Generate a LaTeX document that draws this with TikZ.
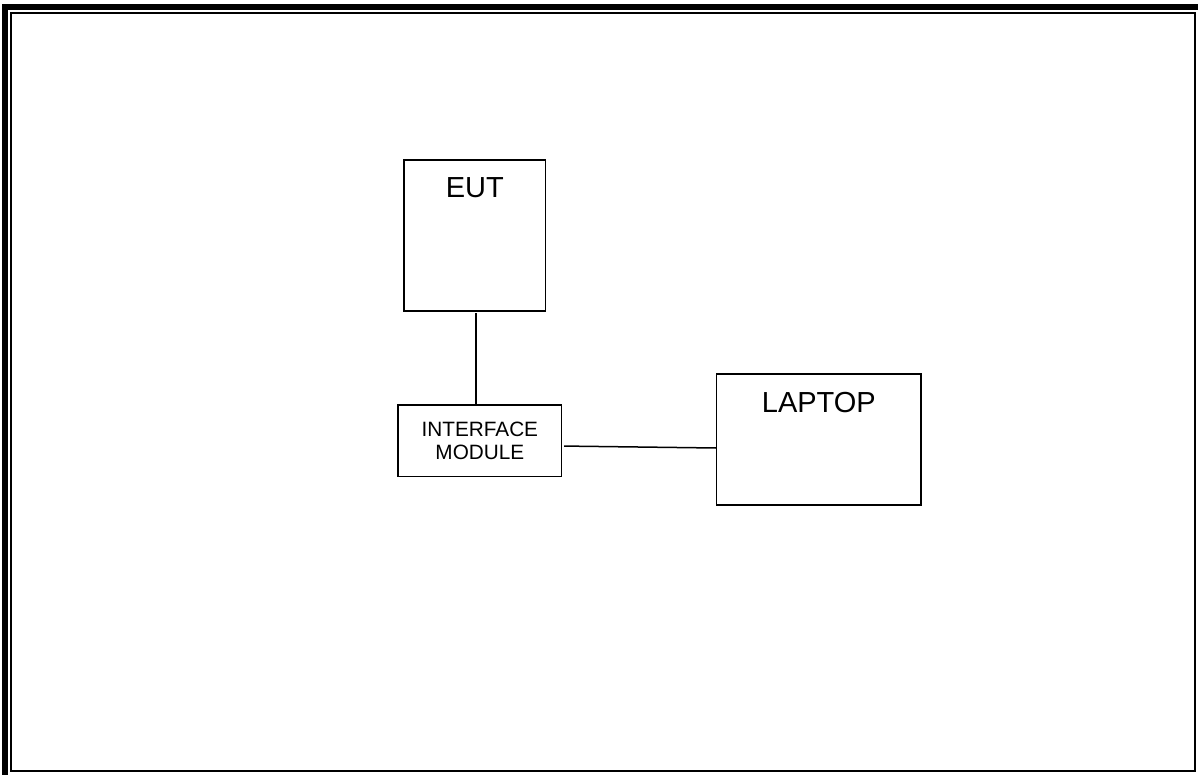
\documentclass[tikz,border=0pt]{standalone}
\usepackage{fontspec}
\setmainfont{Liberation Sans}
\begin{document}
\begin{tikzpicture}[x=1pt,y=-1pt,
  box/.style={draw=black,line width=1.3pt,fill=white,inner sep=0pt,outer sep=0pt},
  bigtxt/.style={font=\fontsize{29}{32}\selectfont,inner sep=0pt,anchor=base},
  smalltxt/.style={font=\fontsize{20.75}{23.3}\selectfont,align=center,inner sep=0pt},
  wire/.style={draw=black,line width=1.5pt}]
\useasboundingbox (0,0) rectangle (1198,774);
\clip (0,0) rectangle (1198,774);
% page border
\draw[line width=6pt] (5,7) rectangle (1210,790);
\draw[line width=2pt] (11,13) rectangle (1195,770.5);
% boxes
\node[box,minimum width=141.5pt,minimum height=151pt] (eut) at (474.75,235.5) {};
\node[bigtxt] (eutl) at ([yshift=-37.3pt]eut.north) {EUT};
\node[box,minimum width=163.7pt,minimum height=71.7pt] (im) at (479.85,440.85) {};
\node[smalltxt] (iml) at (im.center) {INTERFACE\\MODULE};
\node[box,minimum width=204.3pt,minimum height=131pt] (lap) at (818.85,439.5) {};
\node[bigtxt] (lapl) at ([yshift=-38.3pt]lap.north) {LAPTOP};
% connectors
\draw[wire] ([xshift=1.25pt,yshift=-2pt]eut.south) -- ([xshift=1.25pt]eut.south |- im.north);
\draw[wire] ([xshift=2.5pt,yshift=-5.2pt]im.east) -- ([yshift=-8.5pt]lap.west);
\end{tikzpicture}
\end{document}
